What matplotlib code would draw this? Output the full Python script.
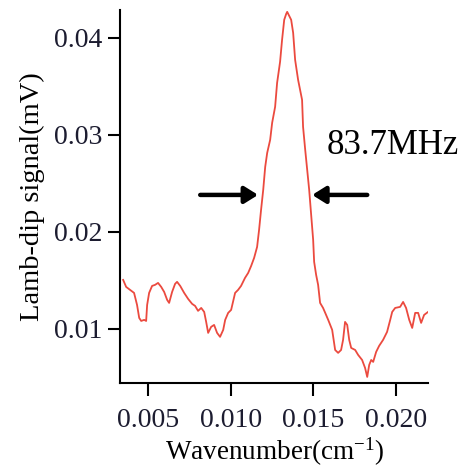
"""Lamb-dip signal vs wavenumber."""
import numpy as np
import matplotlib
matplotlib.use('Agg')
import matplotlib.pyplot as plt

plt.rcParams['font.family'] = ['Liberation Serif', 'DejaVu Serif']
plt.rcParams['mathtext.default'] = 'regular'

# Wavenumber (cm^-1) y señal (mV)
wavenumber = [
    0.00349, 0.00367, 0.00391, 0.00415, 0.00433, 0.00446, 0.00458, 0.00476,
    0.00488, 0.00494, 0.00506, 0.00524, 0.00542, 0.00560, 0.00579, 0.00597,
    0.00615, 0.00627, 0.00645, 0.00663, 0.00675, 0.00694, 0.00718, 0.00742,
    0.00766, 0.00784, 0.00802, 0.00821, 0.00839, 0.00851, 0.00863, 0.00881,
    0.00899, 0.00917, 0.00935, 0.00954, 0.00966, 0.00984, 0.01002, 0.01026,
    0.01044, 0.01062, 0.01086, 0.01105, 0.01123, 0.01141, 0.01159, 0.01171,
    0.01183, 0.01196, 0.01208, 0.01220, 0.01238, 0.01250, 0.01268, 0.01280,
    0.01298, 0.01310, 0.01323, 0.01335, 0.01341, 0.01353, 0.01365, 0.01377,
    0.01389, 0.01407, 0.01431, 0.01437, 0.01450, 0.01462, 0.01474, 0.01486,
    0.01498, 0.01504, 0.01516, 0.01528, 0.01540, 0.01558, 0.01571, 0.01589,
    0.01613, 0.01631, 0.01649, 0.01667, 0.01679, 0.01691, 0.01704, 0.01716,
    0.01728, 0.01752, 0.01770, 0.01794, 0.01812, 0.01825, 0.01837, 0.01849,
    0.01861, 0.01879, 0.01897, 0.01921, 0.01945, 0.01964, 0.01976, 0.01994,
    0.02024, 0.02042, 0.02060, 0.02079, 0.02097, 0.02115, 0.02133, 0.02151,
    0.02169, 0.02193,
]
signal = [
    0.01505, 0.01433, 0.01402, 0.01371, 0.01247, 0.01113, 0.01082, 0.01093,
    0.01082, 0.01247, 0.01371, 0.01443, 0.01454, 0.01474, 0.01433, 0.01381,
    0.01299, 0.01268, 0.01381, 0.01464, 0.01485, 0.01443, 0.01371, 0.01309,
    0.01258, 0.01237, 0.01186, 0.01216, 0.01175, 0.01072, 0.00959, 0.01021,
    0.01041, 0.00959, 0.00918, 0.00990, 0.01093, 0.01165, 0.01196, 0.01371,
    0.01402, 0.01443, 0.01526, 0.01577, 0.01649, 0.01732, 0.01845, 0.02021,
    0.02227, 0.02433, 0.02670, 0.02814, 0.02949, 0.03124, 0.03289, 0.03536,
    0.03753, 0.03979, 0.04186, 0.04247, 0.04268, 0.04227, 0.04186, 0.04052,
    0.03773, 0.03567, 0.03361, 0.03083, 0.02845, 0.02639, 0.02433, 0.02175,
    0.01918, 0.01691, 0.01557, 0.01454, 0.01268, 0.01216, 0.01165, 0.01093,
    0.00990, 0.00783, 0.00753, 0.00783, 0.00887, 0.01072, 0.01041, 0.00887,
    0.00804, 0.00783, 0.00732, 0.00680, 0.00598, 0.00505, 0.00629, 0.00680,
    0.00660, 0.00763, 0.00825, 0.00887, 0.00969, 0.01093, 0.01175, 0.01216,
    0.01227, 0.01278, 0.01216, 0.01093, 0.01010, 0.01165, 0.01165, 0.01062,
    0.01144, 0.01175,
]
x_ticks = [0.005, 0.010, 0.015, 0.020]
y_ticks = [0.01, 0.02, 0.03, 0.04]
# FWHM marcado con flechas
fwhm_left = 0.01165
fwhm_right = 0.01492
fwhm_level = 0.02381
fwhm_text = '83.7MHz'

fig = plt.figure(figsize=(4.67, 4.67), dpi=100)
ax = fig.add_axes([0.257, 0.180, 0.660, 0.799])

ax.plot(wavenumber, signal, color='#eb4a3f', lw=1.3)

ax.set_xlim(0.0033, 0.02194)
ax.set_ylim(0.00443, 0.04289)
ax.set_xticks(x_ticks)
ax.set_xticklabels([f'{t:.3f}' for t in x_ticks])
ax.set_yticks(y_ticks)
ax.set_yticklabels([f'{t:.2f}' for t in y_ticks])

for s in ['top', 'right']:
    ax.spines[s].set_visible(False)
for s in ['left', 'bottom']:
    ax.spines[s].set_linewidth(1.5)
ax.tick_params(direction='out', length=9, width=1.5, labelsize=20,
               labelcolor='#1c1c30')
ax.tick_params(axis='x', pad=9)
ax.tick_params(axis='y', pad=4)

ax.set_xlabel(r'Wavenumber(cm$^{-1}$)', fontsize=19.5, labelpad=2)
ax.set_ylabel('Lamb-dip signal(mV)', fontsize=20.5, labelpad=6)

arrow = dict(arrowstyle='-|>,head_length=0.8,head_width=0.5', color='black',
             lw=3.2, shrinkA=0, shrinkB=0)
ax.annotate('', xy=(fwhm_left, fwhm_level),
            xytext=(fwhm_left - 0.0035, fwhm_level), arrowprops=arrow)
ax.annotate('', xy=(fwhm_right, fwhm_level),
            xytext=(fwhm_right + 0.00333, fwhm_level), arrowprops=arrow)
ax.text(0.01578, 0.0272, fwhm_text, fontsize=25, ha='left', va='bottom')

fig.savefig('out.png', dpi=100)
